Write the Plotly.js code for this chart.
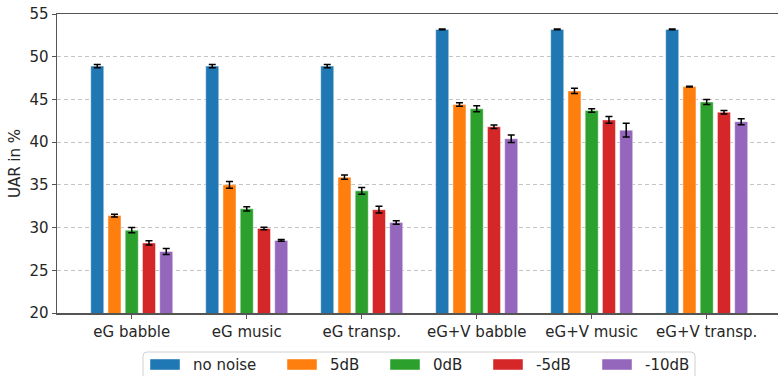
<!DOCTYPE html>
<html>
<head>
<meta charset="utf-8">
<script src="https://cdn.plot.ly/plotly-3.0.1.min.js"></script>
<style>
  html, body { margin: 0; padding: 0; background: #fff; }
  #chart { width: 778px; height: 376px; }
</style>
</head>
<body>
<div id="chart"></div>
<script>
// Test conditions along the x axis
const categories = ["eG babble", "eG music", "eG transp.", "eG+V babble", "eG+V music", "eG+V transp."];

// Noise levels (one bar series each)
const seriesNames = ["no noise", "5dB", "0dB", "-5dB", "-10dB"];
const seriesColors = ["#1f77b4", "#ff7f0e", "#2ca02c", "#d62728", "#9467bd"];

// Mean UAR in % per condition
const noNoise  = [48.9, 48.9, 48.9, 53.2, 53.2, 53.2];
const snr5dB   = [31.4, 35.0, 35.9, 44.4, 46.0, 46.5];
const snr0dB   = [29.7, 32.2, 34.3, 43.9, 43.7, 44.7];
const snrM5dB  = [28.2, 29.9, 32.1, 41.8, 42.6, 43.5];
const snrM10dB = [27.2, 28.5, 30.6, 40.4, 41.4, 42.4];

// Standard deviations shown as error bars
const noNoiseErr  = [0.2, 0.2, 0.2, 0.05, 0.05, 0.05];
const snr5dBErr   = [0.15, 0.4, 0.25, 0.2, 0.3, 0.05];
const snr0dBErr   = [0.3, 0.25, 0.4, 0.35, 0.2, 0.3];
const snrM5dBErr  = [0.25, 0.15, 0.4, 0.2, 0.4, 0.2];
const snrM10dBErr = [0.35, 0.1, 0.2, 0.45, 0.8, 0.35];

// Y axis ticks
const yTicks = [20, 25, 30, 35, 40, 45, 50, 55];

const values = [noNoise, snr5dB, snr0dB, snrM5dB, snrM10dB];
const errors = [noNoiseErr, snr5dBErr, snr0dBErr, snrM5dBErr, snrM10dBErr];

const FONT = "DejaVu Sans, sans-serif";
const TEXT_COLOR = "#262626";

const traces = seriesNames.map((name, i) => ({
  type: "bar",
  name: name,
  x: categories,
  y: values[i],
  marker: {
    color: seriesColors[i],
    line: { color: "rgba(255,255,255,0.45)", width: 1 }
  },
  error_y: {
    type: "data",
    array: errors[i],
    visible: true,
    color: "#000",
    thickness: 1.5,
    width: 3.5
  },
  showlegend: false,
  hoverinfo: "x+y+name"
}));

// Plot area in pixels
const W = 778, H = 376;
const M = { l: 57, r: 0, t: 14, b: 63 };
const plotW = W - M.l - M.r;
const plotH = H - M.t - M.b;
const px2x = px => (px - M.l) / plotW;
const px2y = py => (H - M.b - py) / plotH;

// Legend drawn below the axes: a rounded frame, wide colour patches and labels
const shapes = [];
const annotations = [];

function roundedRect(x0, y0, x1, y1, r) {
  // pixel corners converted to paper coordinates
  const X = px2x, Y = px2y;
  return `M ${X(x0 + r)} ${Y(y0)} L ${X(x1 - r)} ${Y(y0)} Q ${X(x1)} ${Y(y0)} ${X(x1)} ${Y(y0 + r)} ` +
         `L ${X(x1)} ${Y(y1 - r)} Q ${X(x1)} ${Y(y1)} ${X(x1 - r)} ${Y(y1)} ` +
         `L ${X(x0 + r)} ${Y(y1)} Q ${X(x0)} ${Y(y1)} ${X(x0)} ${Y(y1 - r)} ` +
         `L ${X(x0)} ${Y(y0 + r)} Q ${X(x0)} ${Y(y0)} ${X(x0 + r)} ${Y(y0)} Z`;
}

shapes.push({
  type: "path", xref: "paper", yref: "paper",
  path: roundedRect(143, 352, 695, 392, 4),
  line: { color: "#d0d0d0", width: 1 },
  fillcolor: "rgba(255,255,255,0.8)",
  layer: "above"
});

const patchLeft = [150, 287, 390, 493, 602];
seriesNames.forEach((name, i) => {
  const x0 = patchLeft[i];
  shapes.push({
    type: "rect", xref: "paper", yref: "paper",
    x0: px2x(x0), x1: px2x(x0 + 30),
    y0: px2y(359), y1: px2y(370),
    fillcolor: seriesColors[i],
    line: { color: "rgba(255,255,255,0.45)", width: 1 },
    layer: "above"
  });
  annotations.push({
    xref: "paper", yref: "paper",
    x: px2x(x0 + 41), y: px2y(364.5),
    xanchor: "left", yanchor: "middle",
    text: name, showarrow: false,
    font: { family: FONT, size: 15, color: TEXT_COLOR }
  });
});

const layout = {
  width: W, height: H,
  margin: M,
  paper_bgcolor: "#fff",
  plot_bgcolor: "#fff",
  barmode: "group",
  bargap: 0.25,
  bargroupgap: 0.245,
  showlegend: false,
  font: { family: FONT, size: 15, color: TEXT_COLOR },
  xaxis: {
    type: "category",
    range: [-0.65, 5.62],
    showline: true, linecolor: "#555", linewidth: 1.5,
    mirror: true,
    ticks: "outside", ticklen: 4, tickwidth: 1, tickcolor: "#555",
    showgrid: false,
    zeroline: false,
    tickfont: { family: FONT, size: 15, color: TEXT_COLOR }
  },
  yaxis: {
    range: [20, 55],
    tickvals: yTicks,
    ticktext: yTicks.map(String),
    showline: true, linecolor: "#555", linewidth: 1.5,
    ticks: "outside", ticklen: 4, tickwidth: 1, tickcolor: "#555",
    showgrid: true, gridcolor: "#c4c4c4", gridwidth: 1, griddash: "4px,3px",
    zeroline: false,
    tickfont: { family: FONT, size: 15, color: TEXT_COLOR },
    title: { text: "UAR in %", font: { family: FONT, size: 15, color: TEXT_COLOR }, standoff: 5 }
  },
  shapes: shapes,
  annotations: annotations
};

Plotly.newPlot("chart", traces, layout, { displayModeBar: false, staticPlot: true });
</script>
</body>
</html>
